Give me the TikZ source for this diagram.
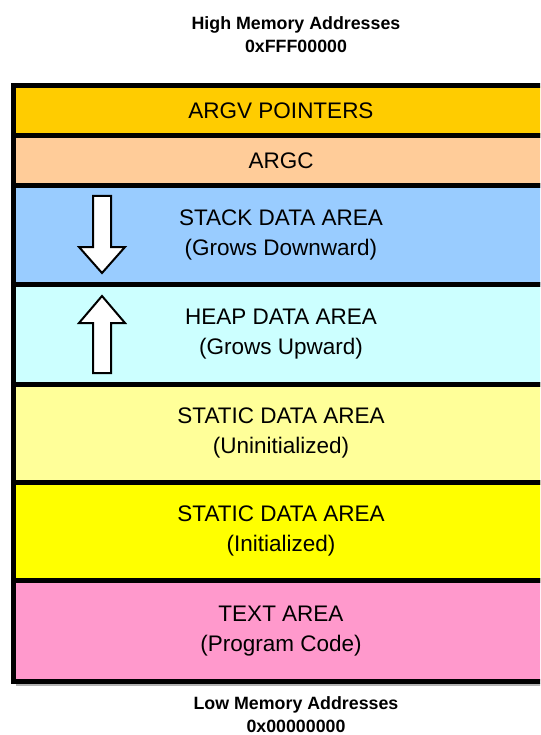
\documentclass[tikz,border=0pt]{standalone}
\usepackage{fontspec}
\setmainfont{Liberation Sans}
\definecolor{cargv}{HTML}{FFCC00}
\definecolor{cargc}{HTML}{FFCC99}
\definecolor{cstack}{HTML}{99CCFF}
\definecolor{cheap}{HTML}{CCFFFF}
\definecolor{cuninit}{HTML}{FFFF99}
\definecolor{cinit}{HTML}{FFFF00}
\definecolor{ctext}{HTML}{FF99CC}
\begin{document}
\begin{tikzpicture}[x=1pt,y=-1pt,
  band/.style={draw=black,line width=5pt,minimum width=535pt,inner sep=0pt,outer sep=0pt,anchor=north west,align=center,font=\fontsize{22.5}{30}\selectfont},
  title/.style={align=center,font=\bfseries\fontsize{17.8}{23}\selectfont},
  growarrow/.style={draw=black,fill=white,line width=2pt,line join=miter}]
\useasboundingbox (0,0) rectangle (540,735);
\begin{scope}
\clip (0,0) rectangle (540,735);
\fill[gray!60] (16,683) rectangle (552,686);
\node[band,fill=cargv,minimum height=49.5pt] (argv) at (13.5,86) {ARGV POINTERS};
\node[band,fill=cargc,minimum height=50pt] (argc) at (13.5,135.5) {ARGC};
\node[band,fill=cstack,minimum height=99pt] (stack) at (13.5,185.5) {STACK DATA AREA\\(Grows Downward)};
\node[band,fill=cheap,minimum height=99.5pt] (heap) at (13.5,284.5) {HEAP DATA AREA\\(Grows Upward)};
\node[band,fill=cuninit,minimum height=98pt] (uninit) at (13.5,384) {STATIC DATA AREA\\(Uninitialized)};
\node[band,fill=cinit,minimum height=98.5pt] (init) at (13.5,482) {STATIC DATA AREA\\(Initialized)};
\node[band,fill=ctext,minimum height=100.5pt] (text) at (13.5,580.5) {TEXT AREA\\(Program Code)};
\end{scope}
% grow arrows
\draw[growarrow] (93,196) -- (111,196) -- (111,247) -- (125,247) -- (102,273) -- (79,247) -- (93,247) -- cycle;
\draw[growarrow] (93,373) -- (111,373) -- (111,323) -- (125,323) -- (102,296) -- (79,323) -- (93,323) -- cycle;
\node[title] (high) at (296,34.5) {High Memory Addresses\\0xFFF00000};
\node[title] (low) at (296,714.5) {Low Memory Addresses\\0x00000000};
\end{tikzpicture}
\end{document}
